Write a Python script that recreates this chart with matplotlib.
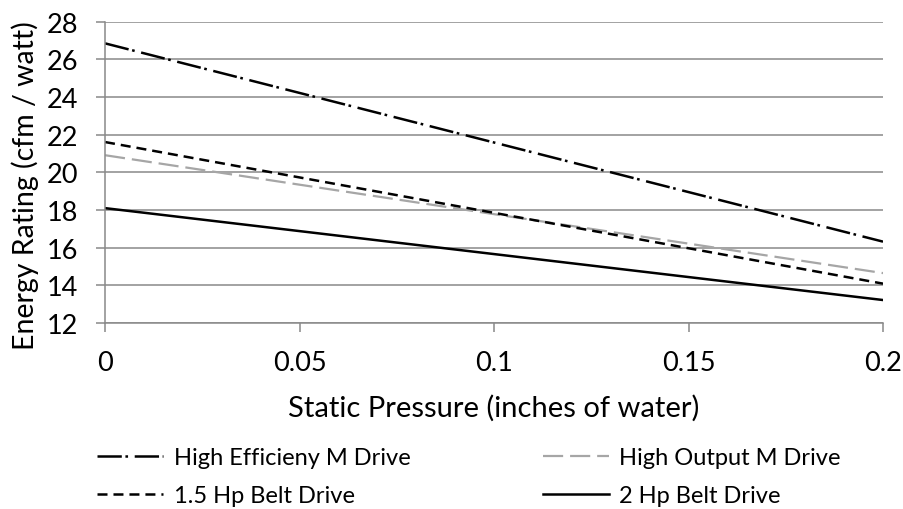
import matplotlib.pyplot as plt

plt.rcParams['font.family'] = ['Lato', 'DejaVu Sans']
plt.rcParams['lines.scale_dashes'] = False

# static pressure (inches of water)
pressure = [0, 0.2]

# energy rating (cfm / watt) per fan drive
high_eff_m = [26.85, 16.32]
high_out_m = [20.91, 14.65]
belt_15hp = [21.61, 14.09]
belt_2hp = [18.1, 13.22]

x_ticks = [0, 0.05, 0.1, 0.15, 0.2]
x_tick_labels = ["0", "0.05", "0.1", "0.15", "0.2"]
y_ticks = [12, 14, 16, 18, 20, 22, 24, 26, 28]

grid_col = "#898989"

fig = plt.figure(figsize=(9.04, 5.10), dpi=100)
ax = fig.add_axes([0.1162, 0.3647, 0.8606, 0.5908])

ax.plot(pressure, high_eff_m, color="black", lw=1.8,
        linestyle=(0, (17.5, 2.6, 1.9, 4.8)), label="High Efficieny M Drive")
ax.plot(pressure, high_out_m, color="#a6a6a6", lw=1.6,
        linestyle=(0, (14.5, 5.0)), label="High Output M Drive")
ax.plot(pressure, belt_15hp, color="black", lw=1.8,
        linestyle=(0, (7.2, 4.3)), label="1.5 Hp Belt Drive")
ax.plot(pressure, belt_2hp, color="black", lw=1.8, label="2 Hp Belt Drive")

ax.set_xlim(0, 0.2)
ax.set_ylim(12, 28)
ax.set_xticks(x_ticks)
ax.set_xticklabels(x_tick_labels)
ax.set_yticks(y_ticks)
ax.grid(axis="y", color=grid_col, lw=1.1)
ax.set_axisbelow(True)

for side in ["top", "right"]:
    ax.spines[side].set_visible(False)
for side in ["left", "bottom"]:
    ax.spines[side].set_color(grid_col)
    ax.spines[side].set_linewidth(1.1)

ax.tick_params(axis="both", colors=grid_col, width=1.1, length=6.2,
               labelsize=19.5, labelcolor="black")
ax.tick_params(axis="x", pad=13.5)
ax.tick_params(axis="y", pad=13)

ax.set_xlabel("Static Pressure (inches of water)", fontsize=21)
ax.set_ylabel("Energy Rating (cfm / watt)", fontsize=20.5)
ax.xaxis.set_label_coords(0.5, -0.236)
ax.yaxis.set_label_coords(-0.085, 0.46)

# legend order: row 1 = High Eff / High Output, row 2 = 1.5 Hp / 2 Hp
h, l = ax.get_legend_handles_labels()
order = [0, 2, 1, 3]
fig.legend([h[i] for i in order], [l[i] for i in order], ncol=2,
           loc="upper left", bbox_to_anchor=(0.1073, 0.122),
           frameon=False, fontsize=17, borderpad=0, borderaxespad=0,
           handlelength=2.8, handletextpad=0.45, columnspacing=5.6,
           labelspacing=0.75)

fig.savefig("out.png", dpi=100)
